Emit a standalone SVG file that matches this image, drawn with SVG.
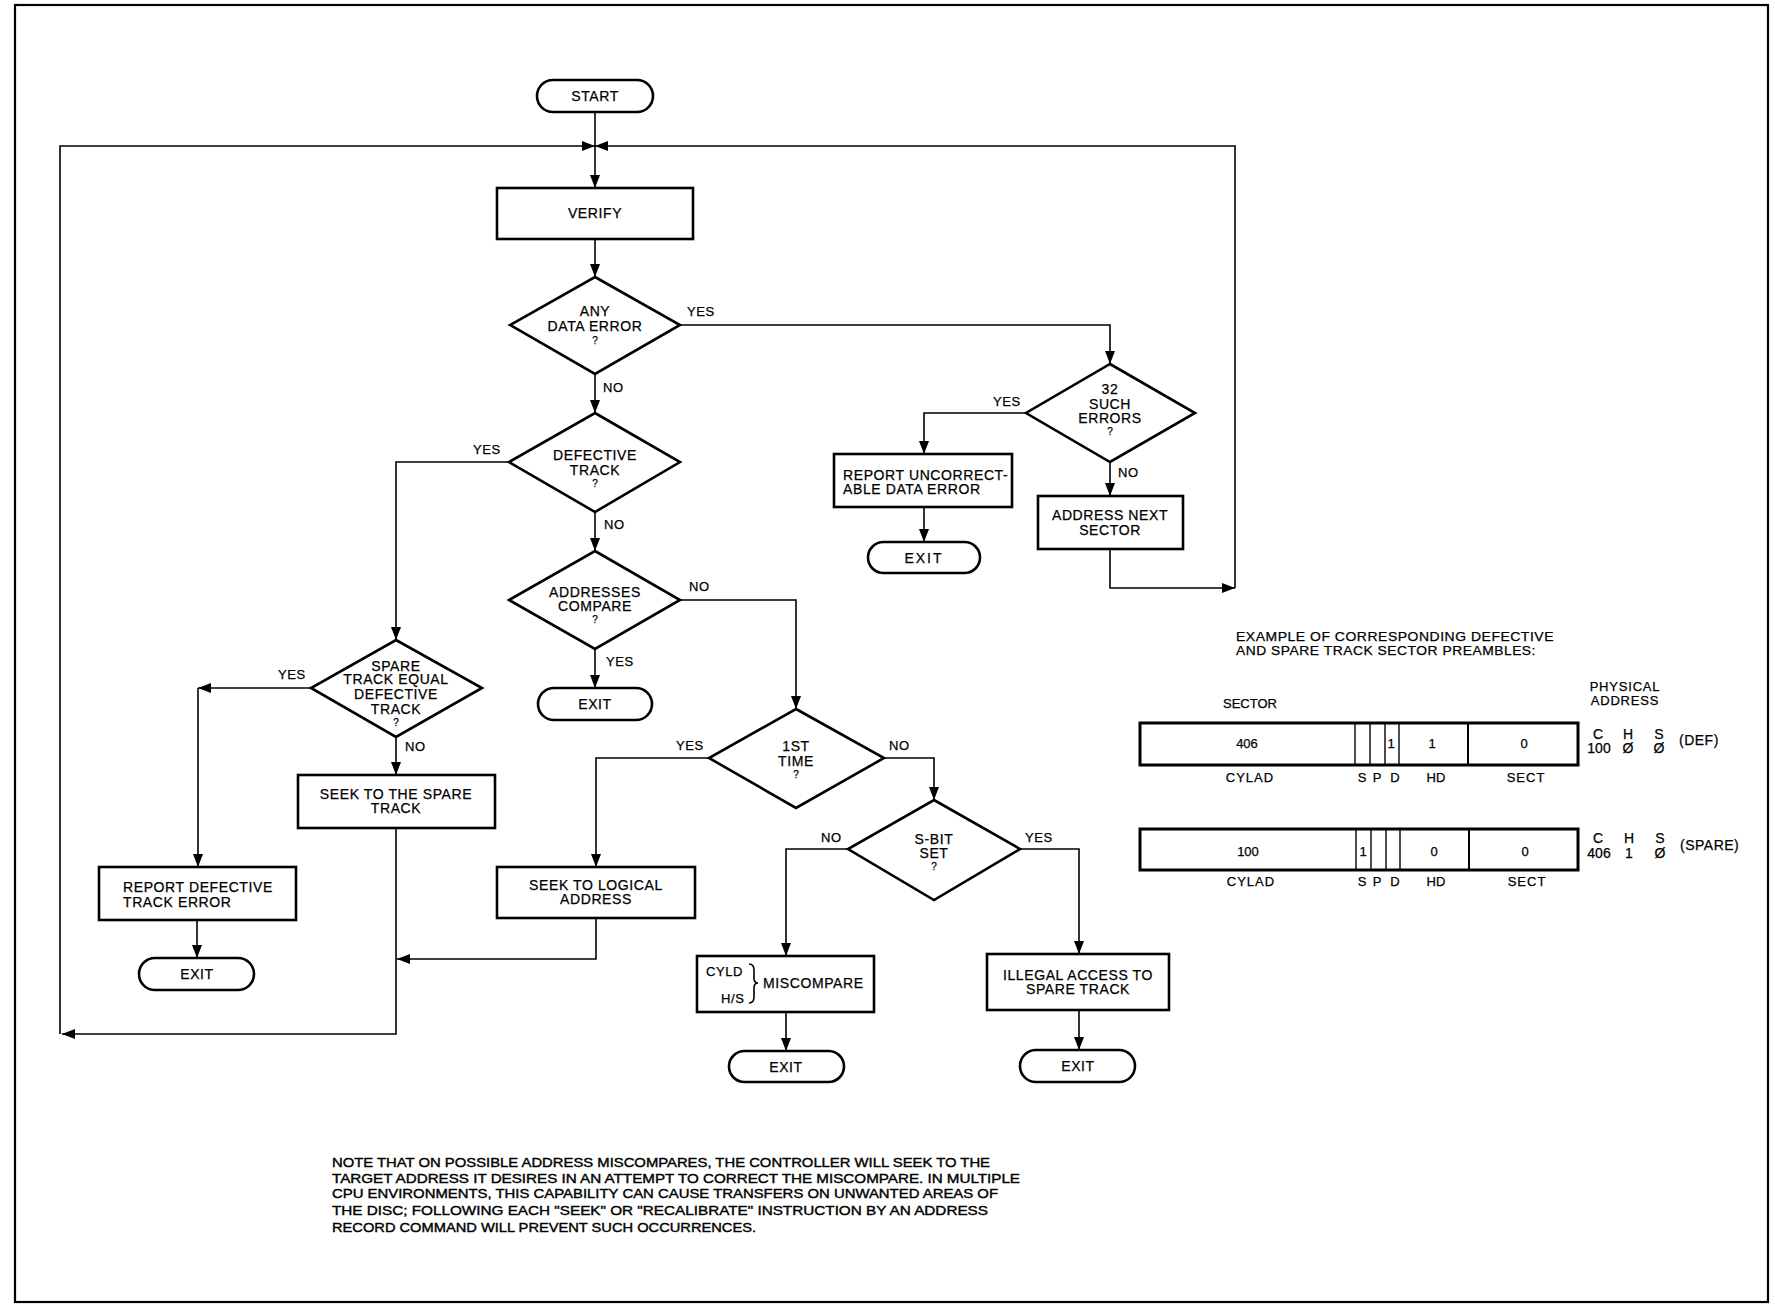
<svg xmlns="http://www.w3.org/2000/svg" width="1775" height="1307" viewBox="0 0 1775 1307">
<style>
.bg{fill:#fff}
.frame{fill:none;stroke:#000;stroke-width:2.2}
.box{fill:#fff;stroke:#000;stroke-width:2.6}
.conn{fill:none;stroke:#000;stroke-width:1.6}
.arr{marker-end:url(#ah)}
text{font-family:"Liberation Sans",Arial,Helvetica,sans-serif;fill:#000;stroke:#000;stroke-width:0.25}
.t{font-size:14px;letter-spacing:0.6px;text-anchor:middle}
.tl{font-size:14px;letter-spacing:0.6px}
.q{font-size:10px;text-anchor:middle}
.lab{font-size:13px;letter-spacing:0.6px}
.p{font-size:13px;letter-spacing:0.5px}
.pc{font-size:13px;text-anchor:middle}
.pa{font-size:14px;text-anchor:middle}
.bar{fill:#fff;stroke:#000;stroke-width:3}
.div{stroke:#000;stroke-width:1.4}
.note{font-size:13.5px;stroke-width:0.4}
</style>
<defs>
<marker id="ah" markerUnits="userSpaceOnUse" markerWidth="14" markerHeight="10" refX="13" refY="5" orient="auto">
<path d="M0,0 L13,5 L0,10 z" fill="#000"/>
</marker>
</defs>
<rect class="bg" x="0" y="0" width="1775" height="1307"/>
<rect class="frame" x="15" y="5" width="1753" height="1297"/>

<g id="connectors">
<path class="conn arr" d="M595,112 V188"/>
<path class="conn arr" d="M396,828 V1034 H62"/>
<path class="conn arr" d="M60,1034 V146 H595"/>
<path class="conn arr" d="M1110,549 V588 H1235"/>
<path class="conn arr" d="M1235,588 V146 H595"/>
<path class="conn arr" d="M595,239 V277"/>
<path class="conn arr" d="M680,325 H1110 V364"/>
<path class="conn arr" d="M595,374 V413"/>
<path class="conn arr" d="M509,462 H396 V640"/>
<path class="conn arr" d="M595,512 V551"/>
<path class="conn arr" d="M680,600 H796 V709"/>
<path class="conn arr" d="M595,649 V688"/>
<path class="conn arr" d="M1026,413 H924 V454"/>
<path class="conn arr" d="M1110,462 V496"/>
<path class="conn arr" d="M924,507 V542"/>
<path class="conn arr" d="M311,688 H198"/>
<path class="conn arr" d="M198,688 V867"/>
<path class="conn arr" d="M396,737 V775"/>
<path class="conn arr" d="M197,920 V958"/>
<path class="conn arr" d="M709,758 H596 V867"/>
<path class="conn arr" d="M884,758 H934 V800"/>
<path class="conn arr" d="M596,918 V959 H397"/>
<path class="conn arr" d="M848,849 H786 V956"/>
<path class="conn arr" d="M1020,849 H1079 V954"/>
<path class="conn arr" d="M786,1012 V1051"/>
<path class="conn arr" d="M1079,1010 V1050"/>
<text class="lab" x="687" y="316">YES</text>
<text class="lab" x="603" y="392">NO</text>
<text class="lab" x="473" y="454">YES</text>
<text class="lab" x="604" y="529">NO</text>
<text class="lab" x="689" y="591">NO</text>
<text class="lab" x="606" y="666">YES</text>
<text class="lab" x="993" y="406">YES</text>
<text class="lab" x="1118" y="477">NO</text>
<text class="lab" x="278" y="679">YES</text>
<text class="lab" x="405" y="751">NO</text>
<text class="lab" x="676" y="750">YES</text>
<text class="lab" x="889" y="750">NO</text>
<text class="lab" x="821" y="842">NO</text>
<text class="lab" x="1025" y="842">YES</text>
</g>

<g id="start">
<rect class="box" x="537" y="80" width="116" height="32" rx="16"/>
<text class="t" x="595" y="101">START</text>
</g>
<g id="verify">
<rect class="box" x="497" y="188" width="196" height="51"/>
<text class="t" x="595" y="218">VERIFY</text>
</g>
<g id="any-data-error">
<polygon class="box" points="595,277 680,325 595,374 510,325"/>
<text class="t" x="595" y="316">ANY</text>
<text class="t" x="595" y="331">DATA ERROR</text>
<text class="q" x="595" y="344">?</text>
</g>
<g id="defective-track">
<polygon class="box" points="595,413 680,462 595,512 509,462"/>
<text class="t" x="595" y="460">DEFECTIVE</text>
<text class="t" x="595" y="475">TRACK</text>
<text class="q" x="595" y="487">?</text>
</g>
<g id="addresses-compare">
<polygon class="box" points="595,551 680,600 595,649 509,600"/>
<text class="t" x="595" y="597">ADDRESSES</text>
<text class="t" x="595" y="611">COMPARE</text>
<text class="q" x="595" y="623">?</text>
</g>
<g id="exit-1">
<rect class="box" x="538" y="688" width="114" height="32" rx="16"/>
<text class="t" x="595" y="709">EXIT</text>
</g>
<g id="such-errors">
<polygon class="box" points="1110,364 1195,413 1110,462 1026,413"/>
<text class="t" x="1110" y="394">32</text>
<text class="t" x="1110" y="409">SUCH</text>
<text class="t" x="1110" y="423">ERRORS</text>
<text class="q" x="1110" y="435">?</text>
</g>
<g id="report-uncorrectable">
<rect class="box" x="834" y="454" width="178" height="53"/>
<text class="tl" x="843" y="480">REPORT UNCORRECT-</text>
<text class="tl" x="843" y="494">ABLE DATA ERROR</text>
</g>
<g id="exit-2">
<rect class="box" x="868" y="542" width="112" height="31" rx="15.5"/>
<text class="t" x="924" y="563" style="letter-spacing:2px">EXIT</text>
</g>
<g id="address-next-sector">
<rect class="box" x="1038" y="496" width="145" height="53"/>
<text class="t" x="1110" y="520">ADDRESS NEXT</text>
<text class="t" x="1110" y="535">SECTOR</text>
</g>
<g id="spare-equal">
<polygon class="box" points="396,640 482,688 396,737 311,688"/>
<text class="t" x="396" y="671">SPARE</text>
<text class="t" x="396" y="684">TRACK EQUAL</text>
<text class="t" x="396" y="699">DEFECTIVE</text>
<text class="t" x="396" y="714">TRACK</text>
<text class="q" x="396" y="726">?</text>
</g>
<g id="seek-spare">
<rect class="box" x="298" y="775" width="197" height="53"/>
<text class="t" x="396" y="799">SEEK TO THE SPARE</text>
<text class="t" x="396" y="813">TRACK</text>
</g>
<g id="report-defective">
<rect class="box" x="99" y="867" width="197" height="53"/>
<text class="tl" x="123" y="892">REPORT DEFECTIVE</text>
<text class="tl" x="123" y="907">TRACK ERROR</text>
</g>
<g id="exit-3">
<rect class="box" x="139" y="958" width="115" height="32" rx="16"/>
<text class="t" x="197" y="979">EXIT</text>
</g>
<g id="first-time">
<polygon class="box" points="796,709 884,758 796,808 709,758"/>
<text class="t" x="796" y="751">1ST</text>
<text class="t" x="796" y="766">TIME</text>
<text class="q" x="796" y="778">?</text>
</g>
<g id="seek-logical">
<rect class="box" x="497" y="867" width="198" height="51"/>
<text class="t" x="596" y="890">SEEK TO LOGICAL</text>
<text class="t" x="596" y="904">ADDRESS</text>
</g>
<g id="s-bit-set">
<polygon class="box" points="934,800 1020,849 934,900 848,849"/>
<text class="t" x="934" y="844">S-BIT</text>
<text class="t" x="934" y="858">SET</text>
<text class="q" x="934" y="870">?</text>
</g>
<g id="miscompare">
<rect class="box" x="697" y="956" width="177" height="56"/>
<text class="tl" x="706" y="976" style="font-size:13px">CYLD</text>
<text class="tl" x="721" y="1003" style="font-size:13px">H/S</text>
<path class="conn" d="M749,964 Q754,964 754,970 V978 Q754,983 758,983 Q754,983 754,988 V997 Q754,1003 749,1003"/>
<text class="tl" x="763" y="988">MISCOMPARE</text>
</g>
<g id="exit-4">
<rect class="box" x="729" y="1051" width="115" height="31" rx="15.5"/>
<text class="t" x="786" y="1072">EXIT</text>
</g>
<g id="illegal-access">
<rect class="box" x="987" y="954" width="182" height="56"/>
<text class="t" x="1078" y="980">ILLEGAL ACCESS TO</text>
<text class="t" x="1078" y="994">SPARE TRACK</text>
</g>
<g id="exit-5">
<rect class="box" x="1020" y="1050" width="115" height="32" rx="16"/>
<text class="t" x="1078" y="1071">EXIT</text>
</g>

<g id="preamble-example">
<text class="p" x="1236" y="641" textLength="318" lengthAdjust="spacingAndGlyphs">EXAMPLE OF CORRESPONDING DEFECTIVE</text>
<text class="p" x="1236" y="655" textLength="300" lengthAdjust="spacingAndGlyphs">AND SPARE TRACK SECTOR PREAMBLES:</text>
<text class="pc" x="1250" y="708">SECTOR</text>
<text class="pc" x="1625" y="691" style="letter-spacing:0.8px">PHYSICAL</text>
<text class="pc" x="1625" y="705" style="letter-spacing:0.8px">ADDRESS</text>

<rect class="bar" x="1140" y="723" width="438" height="42"/>
<line class="div" x1="1355" y1="723" x2="1355" y2="765"/>
<line class="div" x1="1370" y1="723" x2="1370" y2="765"/>
<line class="div" x1="1385" y1="723" x2="1385" y2="765"/>
<line class="div" x1="1399" y1="723" x2="1399" y2="765"/>
<line class="div" x1="1468" y1="723" x2="1468" y2="765" style="stroke-width:2"/>
<text class="pc" x="1247" y="748">406</text>
<text class="pc" x="1391" y="748">1</text>
<text class="pc" x="1432" y="748">1</text>
<text class="pc" x="1524" y="748">0</text>
<text class="pc" x="1250" y="782" style="letter-spacing:1px">CYLAD</text>
<text class="pc" x="1362" y="782">S</text>
<text class="pc" x="1377" y="782">P</text>
<text class="pc" x="1395" y="782">D</text>
<text class="pc" x="1436" y="782">HD</text>
<text class="pc" x="1526" y="782" style="letter-spacing:1px">SECT</text>
<text class="pa" x="1598" y="739">C</text>
<text class="pa" x="1628" y="739">H</text>
<text class="pa" x="1659" y="739">S</text>
<text class="pa" x="1599" y="753">100</text>
<text class="pa" x="1628" y="753">Ø</text>
<text class="pa" x="1659" y="753">Ø</text>
<text class="p" x="1679" y="745" style="font-size:14px">(DEF)</text>

<rect class="bar" x="1140" y="829" width="438" height="41"/>
<line class="div" x1="1356" y1="829" x2="1356" y2="870"/>
<line class="div" x1="1371" y1="829" x2="1371" y2="870"/>
<line class="div" x1="1386" y1="829" x2="1386" y2="870"/>
<line class="div" x1="1400" y1="829" x2="1400" y2="870"/>
<line class="div" x1="1469" y1="829" x2="1469" y2="870" style="stroke-width:2"/>
<text class="pc" x="1248" y="856">100</text>
<text class="pc" x="1363" y="856">1</text>
<text class="pc" x="1434" y="856">0</text>
<text class="pc" x="1525" y="856">0</text>
<text class="pc" x="1251" y="886" style="letter-spacing:1px">CYLAD</text>
<text class="pc" x="1362" y="886">S</text>
<text class="pc" x="1377" y="886">P</text>
<text class="pc" x="1395" y="886">D</text>
<text class="pc" x="1436" y="886">HD</text>
<text class="pc" x="1527" y="886" style="letter-spacing:1px">SECT</text>
<text class="pa" x="1598" y="843">C</text>
<text class="pa" x="1629" y="843">H</text>
<text class="pa" x="1660" y="843">S</text>
<text class="pa" x="1599" y="858">406</text>
<text class="pa" x="1629" y="858">1</text>
<text class="pa" x="1660" y="858">Ø</text>
<text class="p" x="1680" y="850" style="font-size:14px">(SPARE)</text>
</g>

<g id="note">
<text class="note" x="332" y="1167" textLength="658" lengthAdjust="spacingAndGlyphs">NOTE THAT ON POSSIBLE ADDRESS MISCOMPARES, THE CONTROLLER WILL SEEK TO THE</text>
<text class="note" x="332" y="1183" textLength="688" lengthAdjust="spacingAndGlyphs">TARGET ADDRESS IT DESIRES IN AN ATTEMPT TO CORRECT THE MISCOMPARE. IN MULTIPLE</text>
<text class="note" x="332" y="1198" textLength="666" lengthAdjust="spacingAndGlyphs">CPU ENVIRONMENTS, THIS CAPABILITY CAN CAUSE TRANSFERS ON UNWANTED AREAS OF</text>
<text class="note" x="332" y="1215" textLength="656" lengthAdjust="spacingAndGlyphs">THE DISC; FOLLOWING EACH "SEEK" OR "RECALIBRATE" INSTRUCTION BY AN ADDRESS</text>
<text class="note" x="332" y="1232" textLength="424" lengthAdjust="spacingAndGlyphs">RECORD COMMAND WILL PREVENT SUCH OCCURRENCES.</text>
</g>
</svg>
